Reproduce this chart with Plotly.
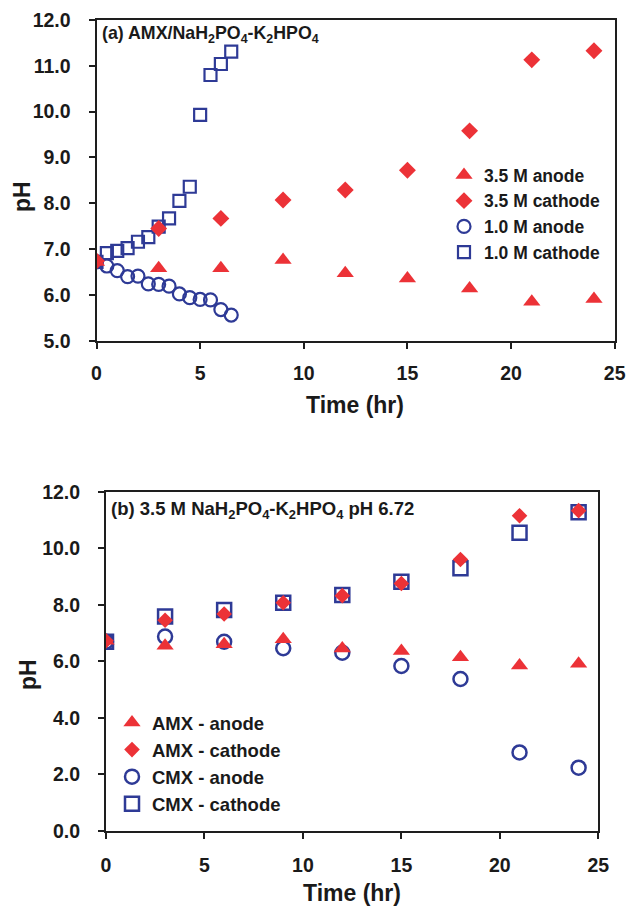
import plotly.graph_objects as go

# ---------------- data ----------------
# Panel (a)
t_35 = [0, 3, 6, 9, 12, 15, 18, 21, 24]
anode_35 = [6.72, 6.58, 6.58, 6.76, 6.47, 6.36, 6.14, 5.85, 5.91]
cathode_35 = [6.74, 7.45, 7.67, 8.07, 8.29, 8.72, 9.58, 11.13, 11.33]

t_10 = [0, 0.5, 1, 1.5, 2, 2.5, 3, 3.5, 4, 4.5, 5, 5.5, 6, 6.5]
anode_10 = [6.72, 6.63, 6.53, 6.40, 6.41, 6.24, 6.23, 6.19, 6.02, 5.94, 5.90, 5.89, 5.68, 5.56]
cathode_10 = [6.72, 6.91, 6.96, 7.02, 7.16, 7.26, 7.49, 7.67, 8.05, 8.36, 9.93, 10.80, 11.04, 11.31]

# Panel (b)
t_b = [0, 3, 6, 9, 12, 15, 18, 21, 24]
amx_anode = [6.72, 6.55, 6.60, 6.78, 6.45, 6.36, 6.14, 5.85, 5.91]
amx_cathode = [6.72, 7.45, 7.67, 8.07, 8.32, 8.75, 9.60, 11.15, 11.33]
cmx_anode = [6.69, 6.87, 6.69, 6.46, 6.30, 5.83, 5.37, 2.77, 2.23]
cmx_cathode = [6.69, 7.58, 7.81, 8.07, 8.34, 8.81, 9.29, 10.55, 11.27]

names_a = ["3.5 M anode", "3.5 M cathode", "1.0 M anode", "1.0 M cathode"]
names_b = ["AMX - anode", "AMX - cathode", "CMX - anode", "CMX - cathode"]
title_a = "(a) AMX/NaH<sub>2</sub>PO<sub>4</sub>-K<sub>2</sub>HPO<sub>4</sub>"
title_b = "(b) 3.5 M NaH<sub>2</sub>PO<sub>4</sub>-K<sub>2</sub>HPO<sub>4</sub> pH 6.72"

# ---------------- styling ----------------
W, H = 628, 910
RED = "#EC3237"
BLUE = "#2E3A96"
AX = "#1e1e1e"
FONT = "Liberation Sans, Arial, sans-serif"


def px_x(p):
    return p / W


def px_y(p):
    return 1 - p / H


fig = go.Figure()

# ---- panel (a): blue drawn first so red sits on top ----
fig.add_trace(go.Scatter(x=t_10, y=cathode_10, mode="markers", name=names_a[3],
                         marker=dict(symbol="square-open", size=12, color=BLUE, line=dict(width=2.2, color=BLUE)),
                         xaxis="x", yaxis="y", legend="legend", legendrank=4))
fig.add_trace(go.Scatter(x=t_10, y=anode_10, mode="markers", name=names_a[2],
                         marker=dict(symbol="circle-open", size=13, color=BLUE, line=dict(width=2.2, color=BLUE)),
                         xaxis="x", yaxis="y", legend="legend", legendrank=3))
fig.add_trace(go.Scatter(x=t_35, y=anode_35, mode="markers", name=names_a[0],
                         marker=dict(symbol="triangle-up", size=15, color=RED),
                         xaxis="x", yaxis="y", legend="legend", legendrank=1))
fig.add_trace(go.Scatter(x=t_35, y=cathode_35, mode="markers", name=names_a[1],
                         marker=dict(symbol="diamond", size=13, color=RED),
                         xaxis="x", yaxis="y", legend="legend", legendrank=2))

# ---- panel (b) ----
fig.add_trace(go.Scatter(x=t_b, y=cmx_cathode, mode="markers", name=names_b[3],
                         marker=dict(symbol="square-open", size=14, color=BLUE, line=dict(width=2.5, color=BLUE)),
                         xaxis="x2", yaxis="y2", legend="legend2", legendrank=4))
fig.add_trace(go.Scatter(x=t_b, y=cmx_anode, mode="markers", name=names_b[2],
                         marker=dict(symbol="circle-open", size=14, color=BLUE, line=dict(width=2.5, color=BLUE)),
                         xaxis="x2", yaxis="y2", legend="legend2", legendrank=3))
fig.add_trace(go.Scatter(x=t_b, y=amx_anode, mode="markers", name=names_b[0],
                         marker=dict(symbol="triangle-up", size=15, color=RED),
                         xaxis="x2", yaxis="y2", legend="legend2", legendrank=1))
fig.add_trace(go.Scatter(x=t_b, y=amx_cathode, mode="markers", name=names_b[1],
                         marker=dict(symbol="diamond", size=12, color=RED),
                         xaxis="x2", yaxis="y2", legend="legend2", legendrank=2))

axis_common = dict(showgrid=False, zeroline=False, showline=True, linecolor=AX, linewidth=2,
                   mirror=True, ticks="outside", ticklen=6, tickwidth=2, tickcolor=AX,
                   automargin=False,
                   tickfont=dict(family=FONT, size=19.5, color="#1a1a1a", weight="bold"))

fig.update_layout(
    width=W, height=H,
    margin=dict(l=0, r=0, t=0, b=0),
    paper_bgcolor="white", plot_bgcolor="white",
    font=dict(family=FONT, color="#1a1a1a"),
    xaxis=dict(domain=[px_x(96.5), px_x(614.7)], range=[0, 25], tick0=0, dtick=5,
               anchor="y", ticklabelstandoff=8, **axis_common),
    yaxis=dict(domain=[px_y(340.7), px_y(20)], range=[5, 12], tick0=5, dtick=1, tickformat=".1f",
               anchor="x", ticklabelstandoff=14, **axis_common),
    xaxis2=dict(domain=[px_x(106), px_x(598.3)], range=[0, 25], tick0=0, dtick=5,
                anchor="y2", ticklabelstandoff=10, **axis_common),
    yaxis2=dict(domain=[px_y(830.7), px_y(491.7)], range=[0, 12], tick0=0, dtick=2, tickformat=".1f",
                anchor="x2", ticklabelstandoff=14, **axis_common),
    legend=dict(x=px_x(444), y=px_y(157), xanchor="left", yanchor="top",
                bgcolor="rgba(0,0,0,0)", borderwidth=0, tracegroupgap=0,
                font=dict(family=FONT, size=17.5, color="#1a1a1a", weight="bold")),
    legend2=dict(x=px_x(112), y=px_y(704), xanchor="left", yanchor="top",
                 bgcolor="rgba(0,0,0,0)", borderwidth=0, tracegroupgap=0,
                 font=dict(family=FONT, size=18.5, color="#1a1a1a", weight="bold")),
    showlegend=True,
)

ann_font_title = dict(family=FONT, size=23, color="#1a1a1a", weight="bold")
annotations = [
    dict(text=title_a, x=px_x(100), y=px_y(35), xref="paper", yref="paper",
         xanchor="left", yanchor="middle", showarrow=False,
         font=dict(family=FONT, size=17.8, color="#1a1a1a", weight="bold")),
    dict(text=title_b, x=px_x(109), y=px_y(510), xref="paper", yref="paper",
         xanchor="left", yanchor="middle", showarrow=False,
         font=dict(family=FONT, size=18.5, color="#1a1a1a", weight="bold")),
    dict(text="Time (hr)", x=px_x(355), y=px_y(405), xref="paper", yref="paper",
         xanchor="center", yanchor="middle", showarrow=False, font=ann_font_title),
    dict(text="Time (hr)", x=px_x(352), y=px_y(893), xref="paper", yref="paper",
         xanchor="center", yanchor="middle", showarrow=False, font=ann_font_title),
    dict(text="pH", x=px_x(22), y=px_y(197), xref="paper", yref="paper", textangle=-90,
         xanchor="center", yanchor="middle", showarrow=False, font=ann_font_title),
    dict(text="pH", x=px_x(28), y=px_y(674), xref="paper", yref="paper", textangle=-90,
         xanchor="center", yanchor="middle", showarrow=False, font=ann_font_title),
]
fig.update_layout(annotations=annotations)

fig.write_html(
    "out.html",
    config={"displayModeBar": False},
    post_script="document.body.style.margin='0';document.body.style.overflow='hidden';",
)
